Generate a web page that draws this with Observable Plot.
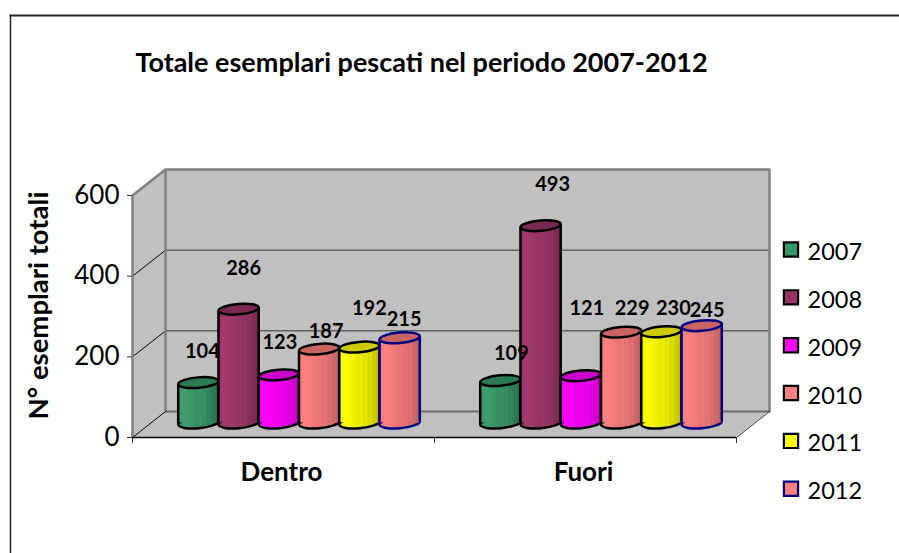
<!DOCTYPE html>
<html>
<head>
<meta charset="utf-8">
<script src="https://cdn.jsdelivr.net/npm/d3@7"></script>
<script src="https://cdn.jsdelivr.net/npm/@observablehq/plot@0.6"></script>
<style>
html,body{margin:0;padding:0;background:#fff}
svg{display:block}
</style>
</head>
<body>
<div id="chart"></div>
<script>
// ---- data
const categories = ["Dentro", "Fuori"];
const years = ["2007", "2008", "2009", "2010", "2011", "2012"];
const dentro = [104, 286, 123, 187, 192, 215];
const fuori = [109, 493, 121, 229, 230, 245];
const yTicks = [0, 200, 400, 600];
const titleText = "Totale esemplari pescati nel periodo 2007-2012";
const yTitle = "N° esemplari totali";

// ---- styles (light side, dark side, top face, outline, legend swatch)
const light = ["#3f9f70", "#a33b70", "#ff00ff", "#ff8080", "#ffff00", "#ff8080"];
const dark = ["#1f5f40", "#672142", "#b000b0", "#a85656", "#a8a800", "#a85656"];
const topFace = ["#2a7a52", "#7a2952", "#cc00cc", "#c86464", "#cccc00", "#c86464"];
const outline = ["#000", "#000", "#000", "#000", "#000", "#000080"];
const swatch = ["#339966", "#993366", "#ff00ff", "#ff8080", "#ffff00", "#ff8080"];
// label nudges in px, relative to the top of each cylinder, [dx, dy]
const labelNudgeDentro = [[4, -31], [5, -41], [1, -32], [7, -17], [10, -38], [4.5, -18]];
const labelNudgeFuori = [[11, -27], [12, -41], [6, -67], [11, -24], [12, -23], [5.5, -15]];

// ---- layout
const W = 899, H = 553;
const xDomain = [0, 15], xRange = [132, 736];
const yDomain = [0, 600], yRange = [437, 195];
const xPx = (xRange[1] - xRange[0]) / (xDomain[1] - xDomain[0]);
const yPx = (yRange[0] - yRange[1]) / (yDomain[1] - yDomain[0]);
// depth of the 3-D box expressed in data units
const depthX = 33 / xPx, depthY = 26 / yPx;
const midX = depthX / 2 - 1 / xPx, midY = depthY / 2;
const baseLift = 1.5 / yPx;
const tiltY = 1.7 / yPx;
const groupWidth = 7.5;

const rows = [];
categories.forEach((cat, g) => {
  const vals = g === 0 ? dentro : fuori;
  const nudges = g === 0 ? labelNudgeDentro : labelNudgeFuori;
  vals.forEach((v, i) => {
    const start = g * groupWidth + groupWidth / 2 - years.length / 2 + i;
    rows.push({cat, year: years[i], i, value: v, x1: start + midX, x2: start + 1 + midX,
      xc: start + 0.5 + midX, base: midY + baseLift, top: v + midY, nudge: nudges[i]});
  });
});

// ellipse symbol, tilted like the perspective caps in the original
const ellipseSymbol = {
  draw(ctx) {
    const rx = xPx / 2, ry = 5.2, a = -5 * Math.PI / 180, k = 0.5523;
    const c = Math.cos(a), s = Math.sin(a);
    const P = (x, y) => [x * c - y * s, x * s + y * c];
    const pts = [
      [[rx, k * ry], [k * rx, ry], [0, ry]],
      [[-k * rx, ry], [-rx, k * ry], [-rx, 0]],
      [[-rx, -k * ry], [-k * rx, -ry], [0, -ry]],
      [[k * rx, -ry], [rx, -k * ry], [rx, 0]]
    ];
    ctx.moveTo(...P(rx, 0));
    for (const [a1, b1, e] of pts) ctx.bezierCurveTo(...P(...a1), ...P(...b1), ...P(...e));
    ctx.closePath();
  }
};

// gradient defs: vertical striped shading as in the source image
function gradients() {
  const defs = d3.create("svg:defs");
  years.forEach((y, i) => {
    const g = defs.append("linearGradient").attr("id", "cyl" + y).attr("x1", 0).attr("x2", 1).attr("y1", 0).attr("y2", 0);
    const mix = d3.interpolateRgb(light[i], dark[i]);
    const stops = [[0, .22], [.12, 0], [.25, .06], [.4, .2], [.5, .28], [.56, .2], [.62, .34], [.68, .26], [.74, .46], [.8, .38], [.86, .6], [.92, .55], [1, 1]];
    for (const [o, t] of stops) g.append("stop").attr("offset", o).attr("stop-color", mix(t));
  });
  return defs.node();
}

const wallColor = "#c0c0c0", edgeColor = "#808080", gridColor = "#333";
const font = "Lato, Carlito, sans-serif";

// box
const box = [
  // side wall
  Plot.areaY([{x: 0, y1: 0, y2: 600}, {x: depthX, y1: depthY, y2: 600 + depthY}],
    {x: "x", y1: "y1", y2: "y2", fill: wallColor}),
  // floor
  Plot.areaX([{y: 0, x1: 0, x2: 15}, {y: depthY, x1: depthX, x2: 15 + depthX}],
    {y: "y", x1: "x1", x2: "x2", fill: wallColor}),
  // back wall
  Plot.rect([{}], {x1: depthX, x2: 15 + depthX, y1: depthY, y2: 600 + depthY, fill: wallColor}),
  // back wall gridlines
  Plot.ruleY([200, 400], {y: d => d + depthY, x1: depthX, x2: 15 + depthX, stroke: gridColor, strokeWidth: 1}),
  // side wall gridlines
  ...[200, 400].map(t => Plot.line([[0, t], [depthX, t + depthY]], {stroke: "#000", strokeWidth: 1})),
  // floor back edge
  Plot.ruleY([depthY], {x1: depthX, x2: 15 + depthX, stroke: "#6a6a6a", strokeWidth: 2}),
  // thick wall edges
  Plot.line([[0, 0], [0, 600], [depthX, 600 + depthY], [15 + depthX, 600 + depthY], [15 + depthX, depthY]],
    {stroke: edgeColor, strokeWidth: 2.5}),
  Plot.ruleX([depthX], {y1: depthY, y2: 600 + depthY, stroke: edgeColor, strokeWidth: 2.5}),
  Plot.line([[0, 0], [depthX, depthY]], {stroke: "#000", strokeWidth: 1}),
  Plot.line([[15, 0], [15 + depthX, depthY]], {stroke: "#333", strokeWidth: 1}),
  // front edge and ticks
  Plot.ruleX([0, groupWidth, 15], {y1: 0, y2: -6 / yPx, stroke: "#333", strokeWidth: 1}),
  Plot.ruleY([0], {x1: 0, x2: 15, stroke: "#000", strokeWidth: 1.5})
];

// cylinders, left to right so each one overlaps the previous one
const cylinders = years.flatMap((y, i) => {
  const d = rows.filter(r => r.i === i);
  const fill = `url(#cyl${y})`, stroke = outline[i], sw = 2.5;
  return [
    Plot.dot(d, {x: "xc", y: "base", symbol: ellipseSymbol, fill, stroke, strokeWidth: sw}),
    Plot.rect(d, {x1: "x1", x2: "x2", y1: "base", y2: "top", fill, inset: 0}),
    Plot.ruleX(d, {x: "x1", y1: r => r.base - tiltY, y2: r => r.top - tiltY, stroke, strokeWidth: sw}),
    Plot.ruleX(d, {x: "x2", y1: r => r.base + tiltY, y2: r => r.top + tiltY, stroke, strokeWidth: sw}),
    Plot.dot(d, {x: "xc", y: "top", symbol: ellipseSymbol, fill: topFace[i], stroke, strokeWidth: sw})
  ];
});

// value labels, each with its own nudge
const labels = rows.map(r => Plot.text([r], {
  x: "xc", y: "top", text: d => String(d.value), dx: r.nudge[0], dy: r.nudge[1],
  fontFamily: font, fontWeight: 700, fontSize: 20, fill: "#000"
}));

// legend placed to the right of the box, positions derived from the scale
const pxToY = py => (yRange[0] - py) / yPx;
const pxToX = px => (px - xRange[0]) / xPx;
const legend = years.flatMap((y, i) => {
  const cy = pxToY(249 + i * 47.85);
  return [
    Plot.dot([y], {x: () => pxToX(790.5), y: () => cy, symbol: "square", r: 8, fill: swatch[i], stroke: outline[i], strokeWidth: 2.2}),
    Plot.text([y], {x: () => pxToX(807), y: () => cy, text: d => d, textAnchor: "start", dy: 3,
      fontFamily: font, fontSize: 23.5, fill: "#000"})
  ];
});

const chart = Plot.plot({
  width: W, height: H,
  marginLeft: 10, marginTop: 15, marginRight: 0, marginBottom: 0,
  x: {domain: xDomain, range: xRange, axis: null},
  y: {domain: yDomain, range: yRange},
  style: {background: "#fff"},
  marks: [
    gradients,
    Plot.frame({anchor: "top", stroke: "#222", strokeWidth: 2}),
    Plot.frame({anchor: "left", stroke: "#222", strokeWidth: 1.5}),
    Plot.text([titleText], {frameAnchor: "top-left", dx: 411, dy: 48, text: d => d, textAnchor: "middle",
      fontFamily: font, fontWeight: 700, fontSize: 27, fill: "#000", lineAnchor: "middle"}),
    Plot.text([yTitle], {frameAnchor: "top-left", dx: 18, dy: 290, rotate: -90, text: d => d, textAnchor: "middle",
      fontFamily: font, fontWeight: 700, fontSize: 27.5, fill: "#000"}),
    ...box,
    Plot.axisY(yTicks, {dx: 122, tickSize: 5, tickPadding: 8, fontSize: 26, fontFamily: font,
      stroke: "#333", fill: "#000", label: null, anchor: "left"}),
    ...cylinders,
    ...labels,
    Plot.text(categories, {x: (d, i) => i * groupWidth + groupWidth / 2, y: () => 0, text: d => d, dy: 35,
      dx: -2, fontFamily: font, fontWeight: 700, fontSize: 26, fill: "#000"}),
    ...legend
  ]
});
document.getElementById("chart").append(chart);
</script>
</body>
</html>
